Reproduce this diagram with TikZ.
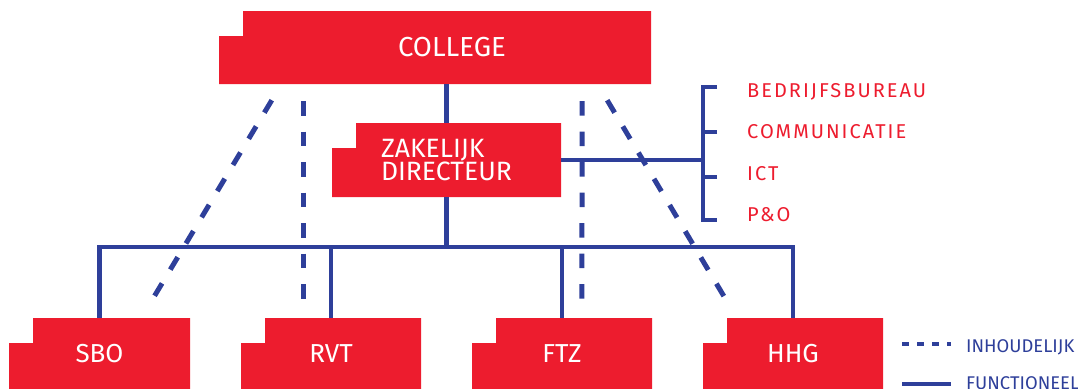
\documentclass[tikz,border=0pt]{standalone}
\usepackage{fontspec}
\setmainfont{Fira Sans}
\newfontfamily\spacedfont[LetterSpace=10]{Fira Sans}
\usetikzlibrary{calc}
\definecolor{orgred}{HTML}{ED1C2E}
\definecolor{orgblue}{HTML}{2E3F9A}

\begin{document}
\begin{tikzpicture}[x=1pt, y=-1pt,
  eenheid/.style={rectangle, inner sep=0pt, minimum width=180pt, minimum height=72pt,
    text=white, font=\fontsize{26}{23}\selectfont,
    path picture={\fill[orgred] ([xshift=24pt]path picture bounding box.north west)
      -- (path picture bounding box.north east) -- (path picture bounding box.south east)
      -- (path picture bounding box.south west) -- ([yshift=-25pt]path picture bounding box.north west)
      -- ++(24pt,0pt) -- cycle;}},
  functioneel/.style={draw=orgblue, line width=4.5pt},
  inhoudelijk/.style={draw=orgblue, line width=5pt, dash pattern=on 14.5pt off 16pt},
  afdeling/.style={anchor=base west, inner sep=0pt, text=orgred, font=\spacedfont\fontsize{20}{22}\selectfont},
  legenda/.style={anchor=base west, inner sep=0pt, text=orgblue, font=\fontsize{18.4}{20}\selectfont}]
\clip (0,0) rectangle (1078,388);
% bestuur
\node[eenheid, minimum width=432pt, minimum height=73pt, font=\fontsize{27.5}{30}\selectfont] (college) at (435,47.5) {\hspace*{34pt}COLLEGE};
\node[eenheid, minimum width=229pt, minimum height=74pt, text width=131pt, align=left, font=\fontsize{26.5}{23}\selectfont] (zakelijk) at (446.5,160) {ZAKELIJK\\DIRECTEUR};
% scholen
\node[eenheid, minimum width=181pt] (sbo) at (99.5,354) {SBO};
\node[eenheid] (rvt) at (331,354) {RVT};
\node[eenheid] (ftz) at (562,354) {FTZ};
\node[eenheid] (hhg) at (793,354) {HHG};
% staf
\node[afdeling] (bedrijfsbureau) at (747,97.7) {BEDRIJFSBUREAU};
\node[afdeling] (communicatie) at (747,138) {COMMUNICATIE};
\node[afdeling] (ict) at (747,180) {ICT};
\node[afdeling] (peno) at (747,221) {P\&O};
\coordinate (spine) at (703,160);
\coordinate (bt) at (717,87);
\coordinate (bc) at (717,132);
\coordinate (bi) at (717,177);
\coordinate (bb) at (717,220);
% functionele lijnen
\coordinate (bus) at ($(zakelijk.south)+(0,50)$);
\draw[functioneel] (college.south -| zakelijk.north) -- (zakelijk.north);
\draw[functioneel] (zakelijk.south) -- (bus);
\draw[functioneel] (sbo.north) -- (sbo.north |- bus) -- (hhg.north |- bus) -- (hhg.north);
\foreach \n in {rvt,ftz} \draw[functioneel] (\n.north) -- (\n.north |- bus);
\draw[functioneel] (zakelijk.east) -- (spine);
\draw[functioneel] (bt) -- ++(-14,0) |- (bb);
\draw[functioneel] (bc) -- ++(-14,0) (bi) -- ++(-14,0);
% inhoudelijke lijnen
\draw[inhoudelijk] ($(college.south west)+(53,16)$) -- ($(sbo.north west)+(141,-14)$);
\draw[inhoudelijk] ($(college.south west)+(85,17)$) -- ($(rvt.north west)+(63,-6)$);
\draw[inhoudelijk] ($(college.south east)+(-69,17)$) -- ($(ftz.north west)+(110,-6)$);
\draw[inhoudelijk] ($(college.south east)+(-44,16)$) -- ($(hhg.north west)+(25,-15)$);
% legenda
\node[legenda] (inhoud) at (966,352.7) {INHOUDELIJK};
\node[legenda] (functie) at (966,389.4) {FUNCTIONEEL};
\draw[inhoudelijk, line width=4pt, dash pattern=on 7pt off 8pt] ($(inhoud.base west)+(-64,-8.7)$) -- ++(49,0);
\draw[functioneel] ($(functie.base west)+(-64,-5.4)$) -- ++(49,0);
\end{tikzpicture}
\end{document}
